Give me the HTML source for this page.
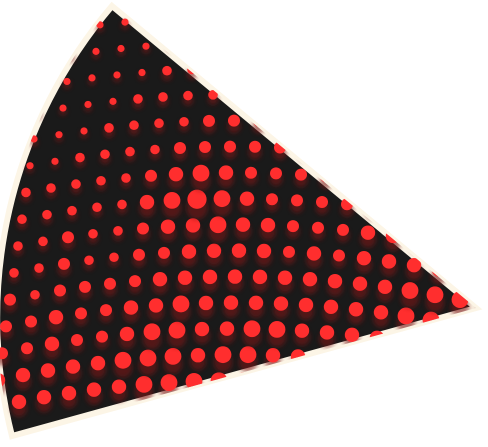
<!DOCTYPE html>
<html><head><meta charset="utf-8"><style>
html,body{margin:0;padding:0;background:#fff;width:488px;height:447px;overflow:hidden}
svg{display:block}
</style></head><body>
<svg id="chart" width="488" height="447" viewBox="0 0 488 447">
<defs>
<clipPath id="wedge-clip"><path d="M112,6 L476,308 L12,436 A480,480 0 0 1 112,6 Z"/></clipPath>
<filter id="glow" x="-1" y="-1" width="3" height="3"><feGaussianBlur stdDeviation="2.5"/></filter>
</defs>
<path d="M112,6 L476,308 L12,436 A480,480 0 0 1 112,6 Z" fill="#1a1a1a" stroke="#fcf5e6" stroke-width="6" stroke-linejoin="miter"/>
<g id="dots" clip-path="url(#wedge-clip)"></g>
</svg>
<script>
// rows (ring index j from -1 upward), columns (angle index i from -1)
const ringIndex = [-1,0,1,2,3,4,5,6,7,8,9,10,11,12,13,14];
const angleIndex = [-1,0,1,2,3,4,5,6,7,8,9,10,11,12,13,14,15,16,17,18];
const values = [
[6,6,6,6,6,6,7,7,7,7,7,7,7,7,7,7,7,7,7,7],
[6,6,6,6,6,7,7,7,6,7,7,6,6,6,6,6,6,6,6,6],
[5,5,6,5,5,6,7,7,6,6,7,7,6,6,6,6,6,6,6,6],
[5,5,6,5,5,6,6,7,6,6,6,6,6,6,6,6,7,7,7,7],
[5,4,5,5,5,5,6,6,6,6,6,6,6,6,6,6,7,7,7,7],
[4,4,5,4,4,5,5,6,6,6,6,5,6,5,6,6,6,6,6,6],
[4,4,5,4,4,5,6,6,7,6,6,5,5,5,6,6,6,6,6,6],
[4,4,4,4,4,6,7,8,7,6,5,5,5,5,5,5,5,5,5,5],
[4,4,4,4,4,5,6,7,6,5,5,5,5,5,5,5,5,5,5,5],
[3,3,4,4,4,4,5,5,5,5,5,5,5,5,5,5,5,5,5,5],
[3,3,3,4,4,4,4,5,5,5,5,5,5,5,5,5,5,5,5,5],
[3,3,3,3,4,4,4,4,4,4,4,4,4,4,4,4,4,4,4,4],
[3,3,3,3,3,4,4,4,4,4,4,4,4,4,4,4,4,4,4,4],
[3,3,3,3,3,3,3,4,4,4,4,4,4,4,4,4,4,4,4,4],
[3,3,3,3,3,3,3,3,3,3,3,3,3,3,3,3,3,3,3,3],
[3,3,3,3,3,3,3,3,3,3,3,3,3,3,3,3,3,3,3,3]
];
const NS='http://www.w3.org/2000/svg';
const g=document.getElementById('dots');
function xPos(i,j){return 23+25*i+4*j;}
function yPos(x,j){return 354.6-26*j+(x-235)*(x-235)/2200;}
function rScale(v){return v*1.2;}
ringIndex.forEach((j,ri)=>{
  angleIndex.forEach((i,ci)=>{
    const v=values[ri][ci];
    const x=xPos(i,j), y=yPos(x,j), r=rScale(v);
    const sh=document.createElementNS(NS,'ellipse');
    
    
    sh.setAttribute('cx',x);sh.setAttribute('cy',y+r*0.9);
    sh.setAttribute('rx',r*1.1);sh.setAttribute('ry',r*1.2);
    sh.setAttribute('fill','#7a1818');sh.setAttribute('opacity','0.6');
    sh.setAttribute('filter','url(#glow)');
    g.appendChild(sh);
    const c=document.createElementNS(NS,'circle');
    
    
    c.setAttribute('cx',x);c.setAttribute('cy',y);c.setAttribute('r',r);
    c.setAttribute('fill','#ff2e2e');
    g.appendChild(c);
  });
});
</script>
</body></html>
